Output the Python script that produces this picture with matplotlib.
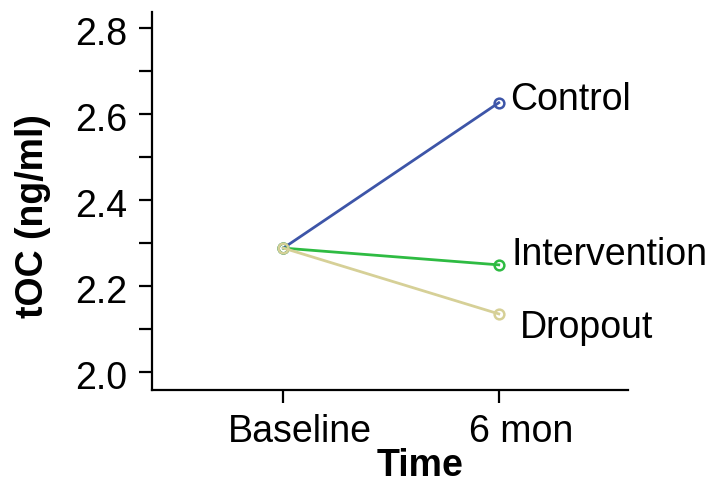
import matplotlib.pyplot as plt
from matplotlib.ticker import MultipleLocator
from matplotlib.transforms import ScaledTranslation

plt.rcParams['font.family'] = ['Liberation Sans', 'DejaVu Sans']

# mean tOC per group at each visit
timepoints = ["Baseline", "6 mon"]
groups = ["Control", "Intervention", "Dropout"]
baseline = [2.288, 2.288, 2.288]
six_mon = [2.626, 2.249, 2.135]
colors = ["#3d55a8", "#2ebb42", "#d6d097"]

fig = plt.figure(figsize=(7.09, 4.84), dpi=100)
ax = fig.add_axes([152 / 709, 1 - 390 / 484, (628 - 152) / 709, (390 - 12) / 484])

x = [1, 2]
for i in range(len(groups)):
    ax.plot(x, [baseline[i], six_mon[i]], color=colors[i], lw=2,
            marker="o", ms=7, mfc="none", mew=1.8, zorder=3)

# group names placed beside the 6-month points, nudged apart
label_dx = [0.055, 0.06, 0.098]
label_dy = [0.007, 0.023, -0.033]
for i, name in enumerate(groups):
    ax.text(2 + label_dx[i], six_mon[i] + label_dy[i], name, fontsize=27,
            va="center", ha="left", clip_on=False)

ax.set_xlim(0.39, 2.6)
ax.set_ylim(1.958, 2.837)
ax.set_xticks(x)
ax.set_xticklabels(timepoints)
ax.yaxis.set_major_locator(MultipleLocator(0.2))
ax.yaxis.set_minor_locator(MultipleLocator(0.1))
ax.yaxis.set_major_formatter(lambda v, p: f"{v:.1f}")

for side in ["top", "right"]:
    ax.spines[side].set_visible(False)
for side in ["left", "bottom"]:
    ax.spines[side].set_linewidth(1.6)
ax.tick_params(which="both", direction="out", length=9.5, width=1.6,
               labelsize=27, pad=8)

# x tick labels sit a little right of their ticks
for lab, dx in zip(ax.get_xticklabels(), [16, 22]):
    lab.set_transform(lab.get_transform()
                      + ScaledTranslation(dx / 100, 0, fig.dpi_scale_trans))
for lab in ax.get_yticklabels():
    lab.set_transform(lab.get_transform()
                      + ScaledTranslation(0, -3 / 100, fig.dpi_scale_trans))

ax.set_ylabel("tOC (ng/ml)", fontsize=27, fontweight="bold", labelpad=18)
ax.set_xlabel("Time", fontsize=27, fontweight="bold", labelpad=-2)
ax.yaxis.label.set_y(0.46)
ax.xaxis.label.set_x(0.563)

fig.savefig("out.png", dpi=100)
